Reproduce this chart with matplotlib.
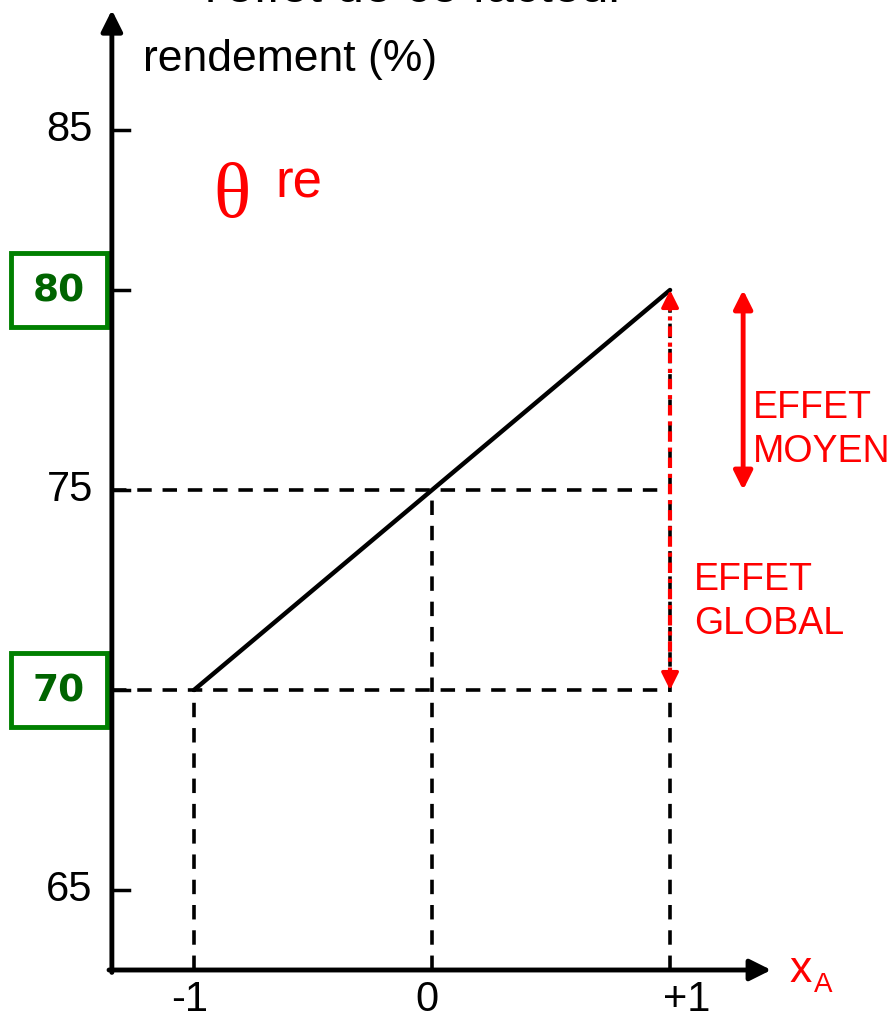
import matplotlib.pyplot as plt
from matplotlib.patches import Rectangle

plt.rcParams['font.family'] = ['Liberation Sans', 'DejaVu Sans']

# Data
xLevels = [-1, 0, 1]
xLabels = ["-1", "0", "+1"]
yields = [70, 75, 80]          # rendement at -1, 0, +1
yTickPos = [65, 75, 84]        # schematic axis: 85 drawn a bit low
yTickLabels = ["65", "75", "85"]
boxedValues = [80, 70]

red = "#FF0000"
green = "#008000"
darkGreen = "#006400"

fig = plt.figure(figsize=(8.95, 10.24), dpi=100)
ax = fig.add_axes([0, 0, 1, 1])
ax.set_xlim(-1.815, 1.945)
ax.set_ylim(61.65, 87.25)
ax.axis("off")

xAxisY = 63.0
yAxisX = -1.345

# axes with arrows
ax.annotate("", xy=(1.425, xAxisY), xytext=(yAxisX - 0.012, xAxisY),
            arrowprops=dict(arrowstyle="-|>", color="black", lw=3.5, mutation_scale=32,
                            shrinkA=0, shrinkB=0))
ax.annotate("", xy=(yAxisX, 87.0), xytext=(yAxisX, xAxisY - 0.06),
            arrowprops=dict(arrowstyle="-|>", color="black", lw=3.5, mutation_scale=32,
                            shrinkA=0, shrinkB=0))

# y ticks
for pos, lab in zip(yTickPos, yTickLabels):
    ax.plot([yAxisX, yAxisX + 0.07], [pos, pos], color="black", lw=2.5)
    ax.text(yAxisX - 0.08, pos, lab, ha="right", va="center", fontsize=30)
for v in boxedValues:
    ax.plot([yAxisX, yAxisX + 0.07], [v, v], color="black", lw=2.5)

# boxed values
for v in boxedValues:
    ax.add_patch(Rectangle((-1.77, v - 0.93), 0.405, 1.86, fill=False,
                           edgecolor=green, lw=3.5, clip_on=False))
    ax.text(-1.568, v - 0.05, str(v), ha="center", va="center", fontsize=27,
            fontweight="bold", color=darkGreen, family="DejaVu Sans")

# x labels
for x, lab in zip(xLevels, xLabels):
    ax.text(x - 0.02 if x != 1 else x + 0.07, 62.25, lab, ha="center", va="center",
            fontsize=30)

# dashed guide lines
dash = (0, (4, 3))
ax.plot([yAxisX, 0.975], [yields[1], yields[1]], color="black", lw=2.6, ls=dash)
ax.plot([yAxisX, 1.0], [yields[0], yields[0]], color="black", lw=2.6, ls=dash)
for x, y in zip(xLevels, yields):
    ax.plot([x, x], [xAxisY, y], color="black", lw=2.6, ls=dash)

# main effect line
ax.plot(xLevels, yields, color="black", lw=3.2, solid_capstyle="round")

# global effect: red dash-dot with heads
ax.plot([1, 1], [yields[0] + 0.3, yields[2] - 0.3], color=red, lw=3,
        ls=(0, (2.5, 1.4, 1.0, 1.4)))
for tip, tail in [(yields[2], yields[2] - 0.5), (yields[0], yields[0] + 0.5)]:
    ax.annotate("", xy=(1, tip), xytext=(1, tail),
                arrowprops=dict(arrowstyle="-|>", color=red, lw=2.5, mutation_scale=26,
                                shrinkA=0, shrinkB=0))

# average effect: solid red double arrow
ax.annotate("", xy=(1.307, yields[2]), xytext=(1.307, yields[1]),
            arrowprops=dict(arrowstyle="<|-|>", color=red, lw=3.5, mutation_scale=28,
                            shrinkA=0, shrinkB=0))

ax.text(1.35, 76.5, "EFFET\nMOYEN", color=red, fontsize=27, ha="left", va="center",
        linespacing=1.25)
ax.text(1.1, 72.2, "EFFET\nGLOBAL", color=red, fontsize=27, ha="left", va="center",
        linespacing=1.25)

# theta annotation
ax.text(-0.92, 82.3, "θ", color=red, fontsize=56, family="Liberation Serif",
        ha="left", va="center")
ax.text(-0.66, 82.05, "re", color=red, fontsize=38, ha="left", va="bottom")

# axis labels
ax.text(-1.215, 85.75, "rendement (%)", fontsize=32, ha="left", va="center")
ax.text(1.50, 63.0, "x", color=red, fontsize=32, ha="left", va="center")
ax.text(1.605, 62.62, "A", color=red, fontsize=20, ha="left", va="center")

# clipped title at the very top
ax.text(-0.07, 87.21, "l'effet de ce facteur", fontsize=36, ha="center",
        va="baseline", clip_on=False)

fig.savefig("out.png", dpi=100)
